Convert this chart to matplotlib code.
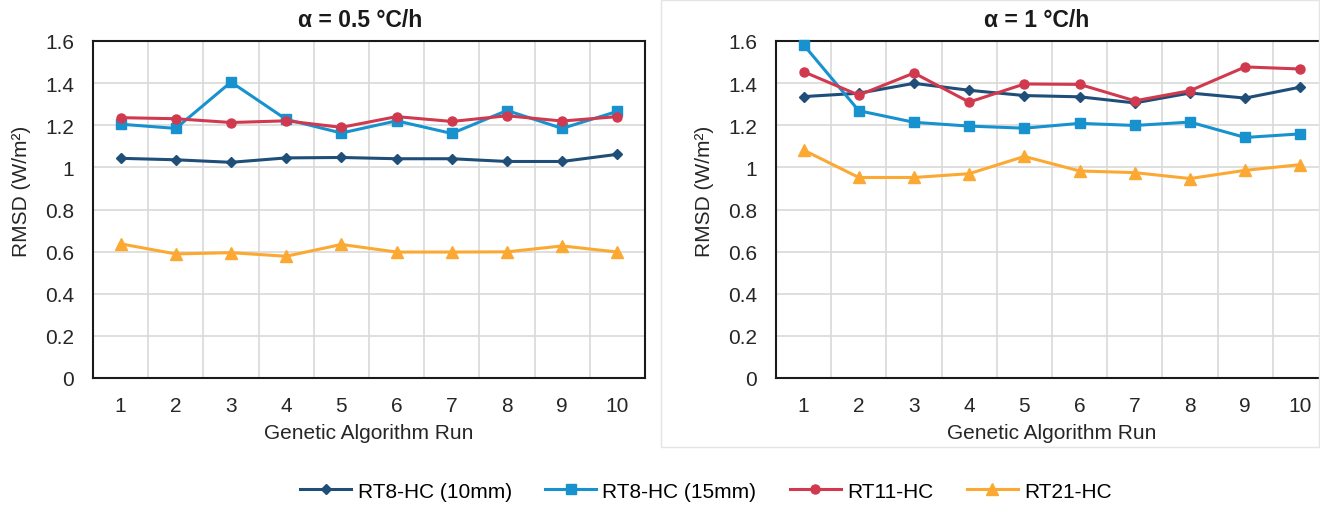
import matplotlib
matplotlib.use("Agg")
import matplotlib.pyplot as plt
from matplotlib.patches import Rectangle

plt.rcParams['font.family'] = ['Liberation Sans', 'DejaVu Sans']

runs = [1, 2, 3, 4, 5, 6, 7, 8, 9, 10]
series_names = ["RT8-HC (10mm)", "RT8-HC (15mm)", "RT11-HC", "RT21-HC"]

# alpha = 0.5 °C/h
a05_rt8_10 = [1.043, 1.036, 1.024, 1.045, 1.047, 1.041, 1.041, 1.028, 1.028, 1.062]
a05_rt8_15 = [1.205, 1.185, 1.405, 1.228, 1.163, 1.221, 1.161, 1.270, 1.185, 1.266]
a05_rt11 = [1.236, 1.231, 1.213, 1.221, 1.190, 1.241, 1.218, 1.245, 1.220, 1.241]
a05_rt21 = [0.637, 0.589, 0.595, 0.578, 0.634, 0.598, 0.598, 0.599, 0.627, 0.598]

# alpha = 1 °C/h
a1_rt8_10 = [1.336, 1.352, 1.399, 1.366, 1.341, 1.335, 1.306, 1.353, 1.329, 1.381]
a1_rt8_15 = [1.582, 1.269, 1.214, 1.196, 1.186, 1.209, 1.199, 1.215, 1.142, 1.159]
a1_rt11 = [1.454, 1.343, 1.448, 1.310, 1.396, 1.394, 1.316, 1.364, 1.477, 1.467]
a1_rt21 = [1.082, 0.952, 0.952, 0.970, 1.052, 0.983, 0.975, 0.947, 0.986, 1.013]

titles = ["α = 0.5 °C/h", "α = 1 °C/h"]
title_x = [0.484, 0.473]
yticks = [0, 0.2, 0.4, 0.6, 0.8, 1.0, 1.2, 1.4, 1.6]
ytick_labels = ["0", "0.2", "0.4", "0.6", "0.8", "1", "1.2", "1.4", "1.6"]

colors = ["#1F4E79", "#1792CF", "#D13A4E", "#FBA932"]
markers = ["D", "s", "o", "^"]
msizes = [5, 6.5, 6.5, 8.5]

W, H = 1320, 506
fig = plt.figure(figsize=(W / 100, H / 100), dpi=100)

# light frame around right panel
fig.patches.append(Rectangle((661 / W, 1 - 448 / H), (W - 662) / W, 447 / H,
                             transform=fig.transFigure, fill=False,
                             edgecolor="#e4e4e4", linewidth=1.0))

ax1 = fig.add_axes([93 / W, 1 - 379 / H, (645 - 93) / W, (379 - 42) / H])
ax2 = fig.add_axes([776 / W, 1 - 379 / H, (1328 - 776) / W, (379 - 42) / H])

data = [[a05_rt8_10, a05_rt8_15, a05_rt11, a05_rt21],
        [a1_rt8_10, a1_rt8_15, a1_rt11, a1_rt21]]

lines = []
for ax, title, tx, dset in zip([ax1, ax2], titles, title_x, data):
    lines = []
    for vals, c, m, ms, name in zip(dset, colors, markers, msizes, series_names):
        ln, = ax.plot(runs, vals, color=c, marker=m, markersize=ms, linewidth=2.2,
                      label=name, zorder=3, clip_on=False)
        lines.append(ln)
    ax.set_xlim(0.5, 10.5)
    ax.set_ylim(0, 1.6)
    ax.set_yticks(yticks)
    ax.set_yticklabels(ytick_labels)
    ax.set_xticks(runs)
    ax.set_xticks([r + 0.5 for r in runs[:-1]], minor=True)
    ax.grid(False)
    ax.grid(True, axis="y", which="major", color="#d9d9d9", linewidth=1.2, zorder=0)
    ax.grid(True, axis="x", which="minor", color="#d9d9d9", linewidth=1.2, zorder=0)
    ax.tick_params(axis="both", which="both", length=0, labelsize=15, colors="#262626")
    ax.tick_params(axis="x", pad=13)
    ax.tick_params(axis="y", pad=13.5)
    for sp in ax.spines.values():
        sp.set_color("#1a1a1a")
        sp.set_linewidth(1.5)
    ax.set_title(title, fontsize=16.5, fontweight="bold", pad=11, color="#1a1a1a", x=tx)
    ax.set_xlabel("Genetic Algorithm Run", fontsize=15, color="#262626", labelpad=6)
    ax.set_ylabel("RMSD (W/m²)", fontsize=15, color="#262626")
    ax.yaxis.set_label_coords(-0.112, 0.558)

fig.legend(handles=lines, labels=series_names, loc="center", ncol=4,
           bbox_to_anchor=(706 / W, 1 - 492 / H), frameon=False, fontsize=15,
           handlelength=2.45, columnspacing=1.6, handletextpad=0.3)

fig.savefig("out.png", dpi=100)
